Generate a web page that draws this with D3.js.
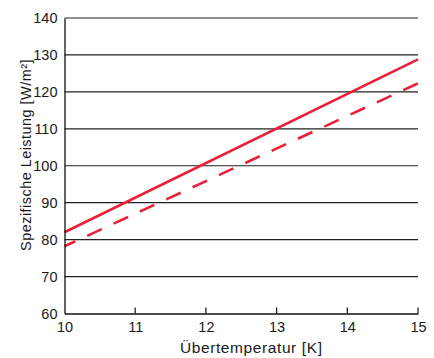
<!DOCTYPE html>
<html><head><meta charset="utf-8">
<script src="https://cdn.jsdelivr.net/npm/d3@7"></script>
<style>body{margin:0;background:#fff}svg{display:block}text{font-family:"Liberation Sans",Arial,sans-serif}</style>
</head><body>
<script>
const xTicks = [10, 11, 12, 13, 14, 15];
const yTicks = [60, 70, 80, 90, 100, 110, 120, 130, 140];
const solidSeries = [{x: 10, y: 82}, {x: 15, y: 128.8}];
const dashedSeries = [{x: 10, y: 78.2}, {x: 15, y: 122.3}];

const W = 434, H = 358;
const svg = d3.select("body").append("svg").attr("width", W).attr("height", H);
const x = d3.scaleLinear().domain([10, 15]).range([64.5, 418]);
const y = d3.scaleLinear().domain([60, 140]).range([313.5, 18]);

// gridlines
svg.append("g").selectAll("line").data(yTicks.slice(1)).join("line")
  .attr("x1", x(10)).attr("x2", x(15))
  .attr("y1", d => y(d)).attr("y2", d => y(d))
  .attr("stroke", "#222").attr("stroke-width", 1.2);

// red lines
const line = d3.line().x(d => x(d.x)).y(d => y(d.y));
svg.append("path").datum(solidSeries).attr("d", line)
  .attr("fill", "none").attr("stroke", "#e8213b").attr("stroke-width", 2.6);
svg.append("path").datum(dashedSeries).attr("d", line)
  .attr("fill", "none").attr("stroke", "#e8213b").attr("stroke-width", 2.6)
  .attr("stroke-dasharray", "16,13").attr("stroke-dashoffset", 4);

// y axis
const ya = svg.append("g").attr("transform", `translate(${x(10)},0)`)
  .call(d3.axisLeft(y).tickValues(yTicks).tickFormat(d3.format("d")).tickSize(0).tickPadding(7));
ya.select(".domain").attr("stroke", "#111").attr("stroke-width", 1.3);
ya.selectAll("text").attr("font-size", 14.5).attr("fill", "#1a1a1a");

// x axis
const xa = svg.append("g").attr("transform", `translate(0,${y(60)})`)
  .call(d3.axisBottom(x).tickValues(xTicks).tickFormat(d3.format("d")).tickSize(0).tickPadding(8));
xa.select(".domain").attr("stroke", "#111").attr("stroke-width", 1.3);
xa.selectAll("text").attr("font-size", 14.5).attr("fill", "#1a1a1a");
svg.append("g").selectAll("line").data(xTicks.slice(1)).join("line")
  .attr("x1", d => x(d)).attr("x2", d => x(d))
  .attr("y1", y(60)).attr("y2", y(60) - 6)
  .attr("stroke", "#111").attr("stroke-width", 1.2);

// labels
svg.append("text").attr("x", (x(10) + x(15)) / 2 + 10).attr("y", 353)
  .attr("text-anchor", "middle").attr("font-size", 15.5).attr("letter-spacing", 0.6).attr("fill", "#1a1a1a")
  .text("Übertemperatur [K]");
svg.append("text").attr("transform", `translate(31,155) rotate(-90)`)
  .attr("text-anchor", "middle").attr("font-size", 14.5).attr("letter-spacing", 0.45).attr("fill", "#1a1a1a")
  .text("Spezifische Leistung [W/m²]");
</script>
</body></html>
